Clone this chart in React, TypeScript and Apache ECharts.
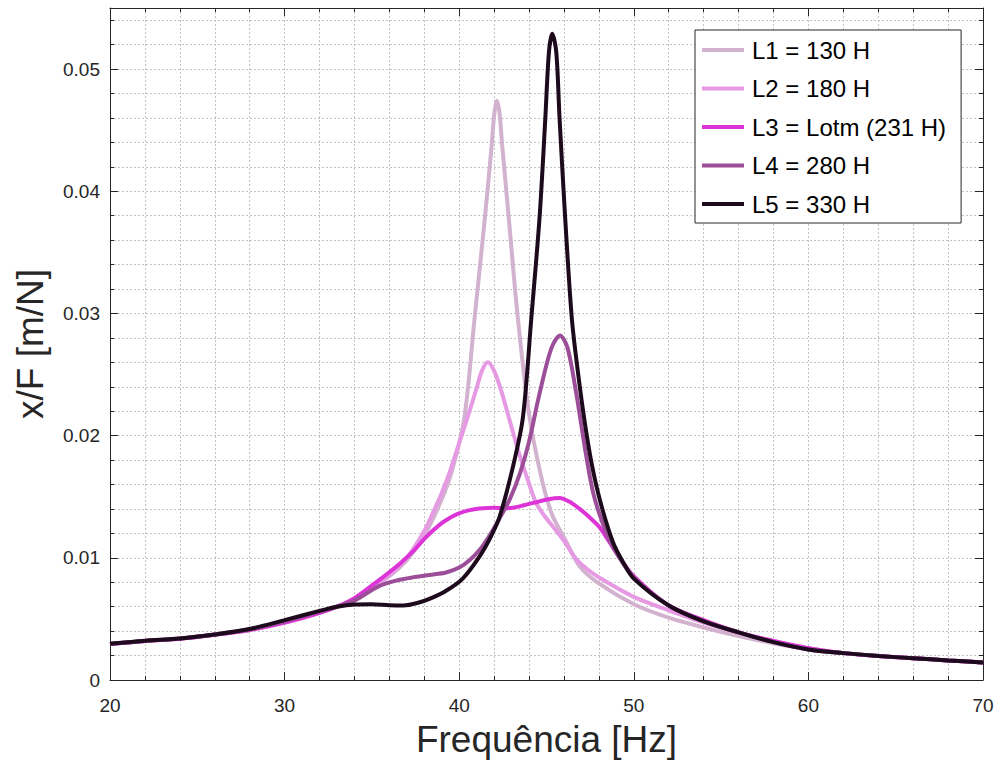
import React, { useEffect, useRef } from "react";
import * as echarts from "echarts";

const seriesNames = ["L1 = 130 H", "L2 = 180 H", "L3 = Lotm (231 H)", "L4 = 280 H", "L5 = 330 H"];
const seriesColors = ["#d3b2d0", "#e69ae3", "#dd34d8", "#9c4e98", "#1d0a1c"];

const xTicks = [20, 30, 40, 50, 60, 70];

const l1Freq = [20, 22, 24, 26, 28, 30, 32, 34, 36, 37, 38, 39, 39.6, 40.3, 40.88, 41.47, 41.85, 42.0, 42.15, 42.3, 42.46, 42.84, 43.36, 44.03, 44.8, 45.36, 46.03, 46.9, 48, 50, 52, 54, 56, 58, 60, 62, 64, 66, 68, 70];
const l1Val = [0.00295, 0.0032, 0.00338, 0.0037, 0.0041, 0.0047, 0.0055, 0.0066, 0.0085, 0.0098, 0.0118, 0.0148, 0.0172, 0.0215, 0.0296, 0.0378, 0.0436, 0.0462, 0.0474, 0.0465, 0.0438, 0.0378, 0.0296, 0.0215, 0.016, 0.0134, 0.0116, 0.0093, 0.0079, 0.0062, 0.0051, 0.0043, 0.0036, 0.003, 0.0025, 0.0022, 0.00196, 0.00178, 0.0016, 0.00143];

const l2Freq = [20, 22, 24, 26, 28, 30, 32, 34, 36, 37, 38, 38.5, 39, 39.5, 40, 40.5, 41, 41.3, 41.64, 42, 42.4, 42.88, 43.4, 43.9, 44.4, 44.9, 45.4, 46, 46.7, 47.3, 48, 50, 52, 54, 56, 58, 60, 62, 64, 66, 68, 70];
const l2Val = [0.00295, 0.0032, 0.00338, 0.0037, 0.0041, 0.0047, 0.0055, 0.0066, 0.0086, 0.01, 0.0122, 0.0137, 0.0153, 0.0172, 0.0194, 0.0216, 0.0239, 0.0253, 0.026, 0.0253, 0.0237, 0.0213, 0.0187, 0.0165, 0.0145, 0.0134, 0.0125, 0.0114, 0.0099, 0.0091, 0.0084, 0.0068, 0.0057, 0.0047, 0.0039, 0.0032, 0.0026, 0.0022, 0.00196, 0.00178, 0.0016, 0.00143];

const l3Freq = [20, 22, 24, 26, 28, 30, 32, 33, 34, 35.43, 36.58, 37.34, 38.1, 38.87, 39.5, 40.02, 40.6, 41.16, 42, 42.6, 43.07, 43.7, 44.41, 45.1, 45.75, 46.3, 46.9, 47.4, 48.04, 48.6, 49.2, 50, 52, 54, 56, 58, 60, 62, 64, 66, 68, 70];
const l3Val = [0.00295, 0.0032, 0.00338, 0.0037, 0.0041, 0.0047, 0.0055, 0.006, 0.0067, 0.0082, 0.0095, 0.0105, 0.0117, 0.0127, 0.0133, 0.01365, 0.0139, 0.01403, 0.0141, 0.01405, 0.0141, 0.0143, 0.01455, 0.0148, 0.0149, 0.0146, 0.014, 0.0134, 0.0125, 0.0113, 0.01, 0.0085, 0.0061, 0.0049, 0.0039, 0.0032, 0.0026, 0.0022, 0.00197, 0.00178, 0.0016, 0.00143];

const l4Freq = [20, 22, 24, 26, 28, 30, 32, 33, 34, 35.43, 36.58, 37.34, 38.3, 39.25, 40, 40.59, 41.2, 41.73, 42.3, 42.9, 43.5, 44.0, 44.5, 45.0, 45.35, 45.77, 46.2, 46.7, 47.2, 47.66, 48.2, 48.8, 50, 52, 54, 56, 58, 60, 62, 64, 66, 68, 70];
const l4Val = [0.00296, 0.0032, 0.0034, 0.00372, 0.00415, 0.0048, 0.0056, 0.006, 0.0065, 0.0077, 0.0082, 0.0084, 0.0086, 0.0088, 0.0092, 0.0098, 0.0107, 0.0118, 0.0132, 0.0148, 0.017, 0.0195, 0.0228, 0.0258, 0.0274, 0.0282, 0.0272, 0.0235, 0.019, 0.0154, 0.0129, 0.0109, 0.0084, 0.0061, 0.0048, 0.0039, 0.0031, 0.0025, 0.0022, 0.00197, 0.00178, 0.0016, 0.00143];

const l5Freq = [20, 22, 24, 26, 28, 30, 32, 33, 34, 35, 36, 36.8, 37.6, 38.4, 39.25, 40.2, 41.16, 41.8, 42.3, 43.07, 43.65, 44.13, 44.6, 44.93, 45.14, 45.33, 45.56, 45.75, 46.07, 46.45, 46.8, 47.18, 47.6, 48.1, 48.8, 49.4, 50, 52, 54, 56, 58, 60, 62, 64, 66, 68, 70];
const l5Val = [0.00297, 0.00322, 0.0034, 0.00373, 0.00417, 0.0049, 0.00566, 0.006, 0.00618, 0.0062, 0.00612, 0.0061, 0.0063, 0.0067, 0.0073, 0.0083, 0.0101, 0.0117, 0.0133, 0.0174, 0.0215, 0.0296, 0.0378, 0.0459, 0.0514, 0.0529, 0.0514, 0.0459, 0.0378, 0.0296, 0.0252, 0.0212, 0.0176, 0.0145, 0.0113, 0.0096, 0.0083, 0.0061, 0.0048, 0.0039, 0.0031, 0.0025, 0.0022, 0.00197, 0.00178, 0.0016, 0.00143];

const allFreq = [l1Freq, l2Freq, l3Freq, l4Freq, l5Freq];
const allVal = [l1Val, l2Val, l3Val, l4Val, l5Val];

const FONT = "Liberation Sans, Arial, Helvetica, sans-serif";
const AXIS_COLOR = "#262626";
const GRID_COLOR = "#c4c4c4";

export default function App() {
  const ref = useRef<HTMLDivElement>(null);
  useEffect(() => {
    if (!ref.current) return;
    const chart = echarts.init(ref.current, undefined, { renderer: "svg" });
    const gridLine = { show: true, lineStyle: { color: GRID_COLOR, type: [2, 2] as any, width: 1 } };
    const labelStyle = { color: AXIS_COLOR, fontSize: 19, fontFamily: FONT };
    const option: any = {
      animation: false,
      backgroundColor: "#ffffff",
      grid: { left: 110, right: 14, top: 8, bottom: 79, containLabel: false },
      legend: {
        show: true,
        orient: "vertical",
        left: 695,
        top: 30,
        data: seriesNames,
        icon: "rect",
        itemWidth: 42,
        itemHeight: 4,
        itemGap: 14.5,
        padding: [8, 15, 7, 7],
        borderColor: "#262626",
        borderWidth: 1,
        backgroundColor: "#ffffff",
        textStyle: { color: "#000000", fontSize: 24, fontFamily: FONT, lineHeight: 24, padding: [0, 0, 0, 3] },
      },
      xAxis: [
        {
          type: "value",
          position: "bottom",
          min: xTicks[0],
          max: xTicks[xTicks.length - 1],
          interval: 10,
          name: "Frequência [Hz]",
          nameLocation: "middle",
          nameGap: 41,
          nameTextStyle: { color: AXIS_COLOR, fontSize: 37, fontFamily: FONT },
          axisLine: { show: true, onZero: false, lineStyle: { color: AXIS_COLOR, width: 1 } },
          axisTick: { show: true, inside: true, length: 8, lineStyle: { color: AXIS_COLOR } },
          minorTick: { show: true, splitNumber: 5, length: 4, lineStyle: { color: AXIS_COLOR } },
          axisLabel: { ...labelStyle, margin: 16 },
          splitLine: gridLine,
          minorSplitLine: gridLine,
        },
        {
          type: "value",
          position: "top",
          min: xTicks[0],
          max: xTicks[xTicks.length - 1],
          interval: 10,
          axisLine: { show: true, onZero: false, lineStyle: { color: AXIS_COLOR, width: 1 } },
          axisTick: { show: true, inside: true, length: 8, lineStyle: { color: AXIS_COLOR } },
          minorTick: { show: true, splitNumber: 5, length: 4, lineStyle: { color: AXIS_COLOR } },
          axisLabel: { show: false },
          splitLine: { show: false },
        },
      ],
      yAxis: [
        {
          type: "value",
          position: "left",
          min: 0,
          max: 0.055,
          interval: 0.01,
          name: "x/F [m/N]",
          nameLocation: "middle",
          nameGap: 61,
          nameRotate: 90,
          nameTextStyle: { color: AXIS_COLOR, fontSize: 37, fontFamily: FONT },
          axisLine: { show: true, onZero: false, lineStyle: { color: AXIS_COLOR, width: 1 } },
          axisTick: { show: true, inside: true, length: 8, lineStyle: { color: AXIS_COLOR } },
          axisLabel: { ...labelStyle, margin: 10, showMaxLabel: false },
          splitLine: gridLine,
        },
        {
          type: "value",
          position: "left",
          min: 0,
          max: 0.055,
          interval: 0.002,
          axisLine: { show: false },
          axisTick: { show: true, inside: true, length: 4, lineStyle: { color: AXIS_COLOR } },
          axisLabel: { show: false },
          splitLine: gridLine,
        },
        {
          type: "value",
          position: "right",
          min: 0,
          max: 0.055,
          interval: 0.01,
          axisLine: { show: true, onZero: false, lineStyle: { color: AXIS_COLOR, width: 1 } },
          axisTick: { show: true, inside: true, length: 8, lineStyle: { color: AXIS_COLOR } },
          axisLabel: { show: false },
          splitLine: { show: false },
        },
        {
          type: "value",
          position: "right",
          min: 0,
          max: 0.055,
          interval: 0.002,
          axisLine: { show: false },
          axisTick: { show: true, inside: true, length: 4, lineStyle: { color: AXIS_COLOR } },
          axisLabel: { show: false },
          splitLine: { show: false },
        },
      ],
      series: seriesNames.map((name, i) => ({
        name,
        type: "line",
        xAxisIndex: 0,
        yAxisIndex: 0,
        data: allFreq[i].map((f, j) => [f, allVal[i][j]]),
        showSymbol: false,
        symbol: "none",
        smooth: 0.3,
        clip: true,
        color: seriesColors[i],
        lineStyle: { color: seriesColors[i], width: 4 },
        z: 2 + i,
      })),
    };
    chart.setOption(option);
    return () => chart.dispose();
  }, []);
  return (
    <div
      ref={ref}
      style={{ position: "fixed", left: 0, top: 0, width: 997, height: 763, background: "#ffffff" }}
    />
  );
}
